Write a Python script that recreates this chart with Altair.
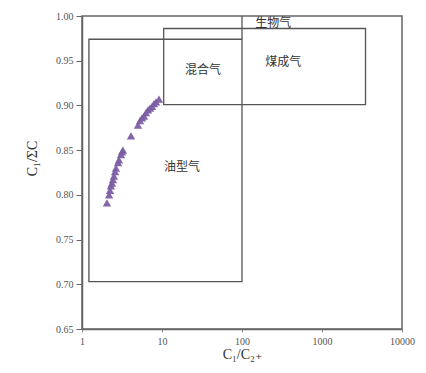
import altair as alt
import pandas as pd

# data points: C1/C2+ ratio and C1/ΣC
ratio = [2.05, 2.18, 2.24, 2.30, 2.37, 2.44, 2.51, 2.59, 2.66, 2.82, 2.90, 3.07, 3.16, 3.25,
         4.10, 5.01, 5.31, 5.62, 5.96, 6.31, 6.68, 7.08, 7.50, 7.94, 8.41, 9.17]
c1 = [0.791, 0.800, 0.805, 0.810, 0.813, 0.817, 0.821, 0.826, 0.830, 0.836, 0.839, 0.845, 0.848, 0.850,
      0.866, 0.878, 0.883, 0.886, 0.888, 0.892, 0.895, 0.897, 0.899, 0.902, 0.904, 0.907]

# region boxes
box_names = ["油型气", "煤成气"]
box_x1 = [1.22, 10.5]
box_x2 = [100, 3500]
box_y1 = [0.703, 0.901]
box_y2 = [0.974, 0.986]

# biogas boundary line
bio_x = [100]
bio_y1 = [0.974]
bio_y2 = [1.0]

# region labels
label_text = ["生物气", "煤成气", "混合气", "油型气"]
label_x = [245, 327, 32.6, 17.8]
label_y = [0.992, 0.949, 0.940, 0.831]

x_ticks = [1, 10, 100, 1000, 10000]
y_ticks = [0.65, 0.70, 0.75, 0.80, 0.85, 0.90, 0.95, 1.00]

FONT = "Liberation Serif, DejaVu Serif, Noto Sans CJK SC"
GREY = "#555555"

pts = pd.DataFrame({"r": ratio, "c": c1})
boxes = pd.DataFrame({"name": box_names, "x1": box_x1, "x2": box_x2, "y1": box_y1, "y2": box_y2})
bio = pd.DataFrame({"x": bio_x, "y1": bio_y1, "y2": bio_y2})
labels = pd.DataFrame({"t": label_text, "x": label_x, "y": label_y})

xscale = alt.Scale(type="log", domain=[1, 10000], nice=False)
yscale = alt.Scale(domain=[0.65, 1.0], nice=False, zero=False)

xaxis = alt.Axis(values=x_ticks, format="d", title="C₁/C₂₊", grid=False,
                 labelFont=FONT, labelFontSize=10, labelColor=GREY,
                 titleFont=FONT, titleFontSize=14, titleFontWeight="normal", titleColor="#333333",
                 domainColor="#666666", domainWidth=1.5, tickColor="#888888", tickSize=3,
                 labelPadding=4, titlePadding=1, labelFlush=False)
yaxis = alt.Axis(values=y_ticks, format=".2f", title="C₁/ΣC", grid=False,
                 labelFont=FONT, labelFontSize=10, labelColor=GREY,
                 titleFont=FONT, titleFontSize=14, titleFontWeight="normal", titleColor="#333333",
                 domainColor="#666666", domainWidth=1.5, tickColor="#666666", tickSize=6,
                 labelPadding=3, titleX=-43, titleY=142, labelFlush=False)

rects = alt.Chart(boxes).mark_rect(fill=None, stroke=GREY, strokeWidth=1.3).encode(
    x=alt.X("x1:Q", scale=xscale, axis=xaxis),
    x2="x2:Q",
    y=alt.Y("y1:Q", scale=yscale, axis=yaxis),
    y2="y2:Q",
)

bioline = alt.Chart(bio).mark_rule(color=GREY, strokeWidth=1.3).encode(
    x=alt.X("x:Q", scale=xscale),
    y=alt.Y("y1:Q", scale=yscale),
    y2="y2:Q",
)

points = alt.Chart(pts).mark_point(shape="triangle-up", filled=True, size=70,
                                    color="#7b5ea3", opacity=0.95).encode(
    x=alt.X("r:Q", scale=xscale),
    y=alt.Y("c:Q", scale=yscale),
)

text = alt.Chart(labels).mark_text(font=FONT, fontSize=12, color="#333333").encode(
    x=alt.X("x:Q", scale=xscale),
    y=alt.Y("y:Q", scale=yscale),
    text="t:N",
)

chart = alt.layer(rects, bioline, points, text).properties(
    width=320, height=313,
    autosize=alt.AutoSizeParams(type="none"),
    padding={"left": 74, "top": 8, "right": 15, "bottom": 34},
).configure_view(stroke="#666666", strokeWidth=1.5)

chart.save("out.html", embed_options={"renderer": "svg", "actions": False})
